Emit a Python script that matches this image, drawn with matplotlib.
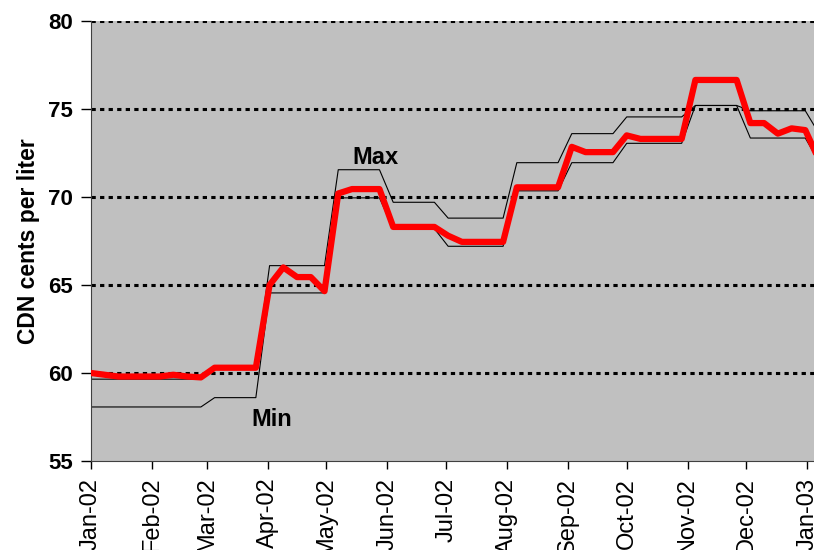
import numpy as np
import pandas as pd
import matplotlib
matplotlib.use("Agg")
import matplotlib.pyplot as plt
import matplotlib.dates as mdates

plt.rcParams['font.family'] = ['Liberation Sans', 'DejaVu Sans']

# weekly prices, CDN cents per liter
dates = pd.date_range('2002-01-01', periods=54, freq='7D')

avg_price = [60.0, 59.9, 59.8, 59.8, 59.8, 59.8, 59.9, 59.8, 59.75,
             60.3, 60.3, 60.3, 60.3,
             65.0, 66.0, 65.45, 65.45, 64.65,
             70.2, 70.45, 70.45, 70.45,
             68.3, 68.3, 68.3, 68.3,
             67.8, 67.45, 67.45, 67.45, 67.45,
             70.55, 70.55, 70.55, 70.55,
             72.85, 72.55, 72.55, 72.55,
             73.5, 73.3, 73.3, 73.3, 73.3,
             76.65, 76.65, 76.65, 76.65,
             74.2, 74.2, 73.6, 73.9, 73.8, 72.1]

max_price = [59.65]*9 + [60.3]*4 + [66.1]*5 + [71.55]*4 + [69.7]*4 + [68.8]*5 \
    + [71.95]*4 + [73.6]*4 + [74.55]*5 + [75.2]*4 + [74.9]*5 + [73.6]
min_price = [58.07]*9 + [58.6]*4 + [64.55]*5 + [69.95]*4 + [68.2]*4 + [67.2]*5 \
    + [70.35]*4 + [71.95]*4 + [73.05]*5 + [75.2]*4 + [73.35]*5 + [72.0]

yticks = [55, 60, 65, 70, 75, 80]

fig = plt.figure(figsize=(8.14, 5.5), dpi=100)
ax = fig.add_axes([91/814, 89/550, 730/814, 440/550])
ax.set_facecolor('#C0C0C0')

for y in yticks[1:]:
    ax.axhline(y, color='black', lw=2.2, linestyle=(0, (1.4, 1.4)), zorder=1)

ax.plot(dates, max_price, color='black', lw=0.8, zorder=2)
ax.plot(dates, min_price, color='black', lw=0.8, zorder=2)
ax.plot(dates, avg_price, color='#FF0000', lw=4.5, zorder=3)

ax.text(pd.Timestamp('2002-05-26'), 72.27, 'Max', fontsize=17, fontweight='bold',
        ha='center', va='center')
ax.text(pd.Timestamp('2002-04-03'), 57.33, 'Min', fontsize=17, fontweight='bold',
        ha='center', va='center')

ax.set_ylim(55, 80)
ax.set_xlim(pd.Timestamp('2002-01-01'), pd.Timestamp('2003-01-08'))
ax.set_yticks(yticks)
ax.xaxis.set_major_locator(mdates.MonthLocator())
ax.xaxis.set_major_formatter(mdates.DateFormatter('%b-%y'))

ax.tick_params(axis='y', labelsize=16, length=7, width=1, pad=6)
ax.tick_params(axis='x', labelsize=17, length=6, width=1, pad=6, labelrotation=90)
for lab in ax.get_yticklabels():
    lab.set_fontweight('bold')

ax.set_ylabel('CDN cents per liter', fontsize=16.5, fontweight='bold', labelpad=6)

for s in ['top', 'right']:
    ax.spines[s].set_visible(False)
for s in ['left', 'bottom']:
    ax.spines[s].set_color('#404040')

fig.savefig('out.png', dpi=100)
